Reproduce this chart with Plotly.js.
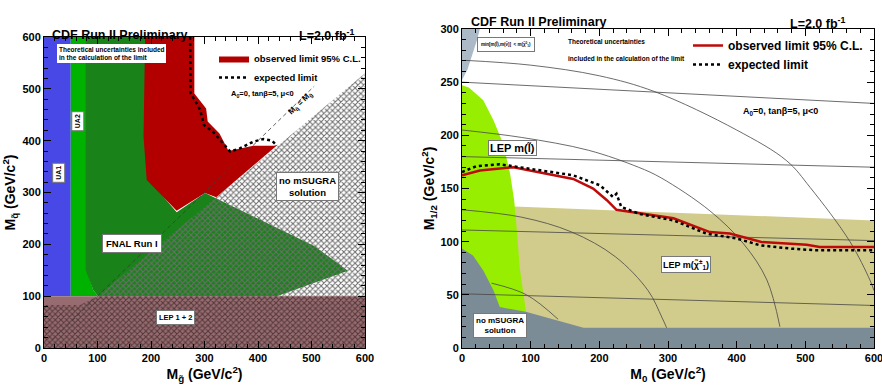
<!DOCTYPE html>
<html>
<head>
<meta charset="utf-8">
<script src="https://cdn.plot.ly/plotly-3.0.1.min.js"></script>
<style>html,body{margin:0;padding:0;background:#fff;}#chart{width:882px;height:385px;}</style>
</head>
<body>
<div id="chart"></div>
<script>
// ---------- LEFT PANEL: M_squark vs M_gluino ----------
const ua1X = [0, 50, 50, 0];
const ua1Y = [100, 100, 600, 600];
const ua2X = [50, 50, 80, 80, 92, 101];
const ua2Y = [100, 600, 600, 150, 112, 100];
const fnalX = [78, 200, 200, 248, 301, 505, 568, 435, 101, 92, 78];
const fnalY = [600, 600, 320, 262, 299, 197, 149, 100, 100, 112, 150];
const obsRegX = [189, 281, 281, 290, 303, 306, 328, 345, 391, 430, 437, 322, 301, 248, 192, 186];
const obsRegY = [600, 600, 491, 480, 462, 437, 414, 380, 390, 390, 392, 291, 299, 265, 324, 408];
const noSugraX = [100, 600, 600];
const noSugraY = [100, 530, 100];
const lepX = [0, 600, 600, 0];
const lepY = [0, 0, 100, 100];
const lepHatchX = [0, 600, 600, 101, 67, 0];
const lepHatchY = [0, 0, 100, 100, 83, 83];
const diagX = [15, 505];
const diagY = [15, 505];
const expLX = [273, 274, 282, 292, 299, 316, 332, 348, 366, 391, 410, 426, 434];
const expLY = [600, 491, 478, 459, 430, 417, 398, 379, 385, 398, 403, 400, 392];

// ---------- RIGHT PANEL: M_1/2 vs M_0 ----------
const charginoX = [0, 600, 600, 76, 0];
const charginoY = [0, 0, 120, 133, 133];
const sleptonX = [0, 0, 10, 31, 46, 60, 70, 76, 80, 84, 93, 96];
const sleptonY = [0, 247, 245, 233, 214, 192, 164, 139, 110, 76, 35, 0];
const lspX = [0, 26, 22, 15, 8, 0];
const lspY = [300, 300, 290, 275, 262, 252];
const noSolX = [0, 0, 16, 31, 46, 55, 93, 138, 177, 600, 600];
const noSolY = [0, 93.5, 87, 73, 54, 38.6, 34, 26, 19, 19, 0];
const arcAX = [5, 100, 200, 281, 400, 473, 507, 565, 594, 600];
const arcAY = [270.5, 266, 256, 241, 205, 176, 151, 100, 64, 54];
const arcCX = [0, 87, 184, 257, 290, 361, 410, 444, 463];
const arcCY = [205, 198, 186, 170, 160, 129, 98, 64, 20];
const arcEX = [0, 87, 160, 223, 271, 291, 298];
const arcEY = [130, 123, 109, 86, 54, 29, 19];
const arcGX = [43, 94, 140];
const arcGY = [61, 50, 27];
const lineBX = [0, 600], lineBY = [250, 230];
const lineDX = [0, 600], lineDY = [180, 170];
const lineFX = [0, 600], lineFY = [111, 101];
const lineHX = [0, 600], lineHY = [51, 40];
const obsRX = [0, 26, 75, 162, 191, 211, 225, 308, 361, 390, 436, 502, 521, 600];
const obsRY = [162.4, 167, 170, 159, 150, 139, 130, 122, 109, 107.6, 99.7, 97, 95, 95];
const expRX = [0, 21, 55, 114, 162, 201, 220, 225, 232, 259, 308, 356, 400, 434, 478, 512, 600];
const expRY = [165.5, 171, 172.8, 167, 162.4, 153, 142, 145, 132.6, 126, 120, 107.6, 103, 96.6, 93.5, 92, 92];

const FONT = 'Liberation Sans, Arial, Helvetica, sans-serif';

function poly(x, y, color, xa, ya, extra) {
  return Object.assign({
    type: 'scatter', mode: 'lines', x: x, y: y, xaxis: xa, yaxis: ya,
    fill: 'toself', fillcolor: color, line: {width: 0, color: color},
    hoverinfo: 'skip', showlegend: false
  }, extra || {});
}
function ln(x, y, xa, ya, extra) {
  return Object.assign({
    type: 'scatter', mode: 'lines', x: x, y: y, xaxis: xa, yaxis: ya,
    line: {width: 0.8, color: 'rgb(70,70,70)'}, hoverinfo: 'skip', showlegend: false
  }, extra || {});
}

const traces = [
  poly(ua1X, ua1Y, 'rgb(72,72,230)', 'x', 'y'),
  poly(ua2X, ua2Y, 'rgb(0,178,0)', 'x', 'y'),
  poly(fnalX, fnalY, 'rgb(25,130,25)', 'x', 'y'),
  poly(obsRegX, obsRegY, 'rgb(178,0,0)', 'x', 'y', {name: 'observed limit 95% C.L.', showlegend: true, legend: 'legend'}),
  poly(noSugraX, noSugraY, 'rgba(0,0,0,0)', 'x', 'y', {fillpattern: {shape: 'x', size: 4, solidity: 0.45, fgcolor: 'rgb(110,110,110)', bgcolor: 'rgba(0,0,0,0)'}}),
  poly(lepX, lepY, 'rgb(150,108,112)', 'x', 'y'),
  poly(lepHatchX, lepHatchY, 'rgba(0,0,0,0)', 'x', 'y', {fillpattern: {shape: 'x', size: 4, solidity: 0.45, fgcolor: 'rgb(85,55,58)', bgcolor: 'rgba(0,0,0,0)'}}),
  ln(diagX, diagY, 'x', 'y', {line: {width: 0.8, color: 'rgb(60,60,60)', dash: '4px,3px'}}),
  ln(expLX, expLY, 'x', 'y', {name: 'expected limit', showlegend: true, legend: 'legend', line: {width: 2.5, color: 'black', dash: 'dot'}}),

  poly(charginoX, charginoY, 'rgb(210,204,140)', 'x2', 'y2'),
  poly(sleptonX, sleptonY, 'rgb(152,238,0)', 'x2', 'y2'),
  poly(lspX, lspY, 'rgb(172,186,200)', 'x2', 'y2'),
  poly(noSolX, noSolY, 'rgb(124,140,150)', 'x2', 'y2'),
  ln(arcAX, arcAY, 'x2', 'y2', {line: {width: 0.8, color: 'rgb(70,70,70)', shape: 'spline'}}),
  ln(arcCX, arcCY, 'x2', 'y2', {line: {width: 0.8, color: 'rgb(70,70,70)', shape: 'spline'}}),
  ln(arcEX, arcEY, 'x2', 'y2', {line: {width: 0.8, color: 'rgb(70,70,70)', shape: 'spline'}}),
  ln(arcGX, arcGY, 'x2', 'y2', {line: {width: 0.8, color: 'rgb(70,70,70)', shape: 'spline'}}),
  ln(lineBX, lineBY, 'x2', 'y2'),
  ln(lineDX, lineDY, 'x2', 'y2'),
  ln(lineFX, lineFY, 'x2', 'y2'),
  ln(lineHX, lineHY, 'x2', 'y2'),
  ln(obsRX, obsRY, 'x2', 'y2', {name: 'observed limit 95% C.L.', showlegend: true, legend: 'legend2', line: {width: 2.5, color: 'rgb(190,10,10)'}}),
  ln(expRX, expRY, 'x2', 'y2', {name: 'expected limit', showlegend: true, legend: 'legend2', line: {width: 2.5, color: 'black', dash: 'dot'}})
];

const W = 882, H = 385;
const bold = (s) => ({family: FONT, size: s, color: 'black', weight: 'bold'});

function axis(extra) {
  return Object.assign({
    showline: true, linecolor: 'black', linewidth: 1, mirror: 'allticks',
    ticks: 'inside', ticklen: 7, tickwidth: 1, tickcolor: 'black',
    showgrid: false, zeroline: false, fixedrange: true, ticklabeloverflow: 'allow',
    tickfont: bold(11)
  }, extra);
}

function box(x, y, xr, yr, text, size, extra) {
  return Object.assign({
    x: x, y: y, xref: xr, yref: yr, text: text, showarrow: false,
    font: bold(size), bgcolor: 'white', bordercolor: 'rgb(120,120,120)', borderwidth: 1, borderpad: 2
  }, extra || {});
}
function txt(x, y, xr, yr, text, size, extra) {
  return Object.assign({x: x, y: y, xref: xr, yref: yr, text: text, showarrow: false, font: bold(size)}, extra || {});
}

const annotations = [
  // left panel titles
  txt(50 / W, 1 - 26 / H, 'paper', 'paper', 'CDF Run II Preliminary', 12.5, {xanchor: 'left'}),
  txt(357 / W, 1 - 25 / H, 'paper', 'paper', 'L=2.0 fb<sup>-1</sup>', 12.5, {xanchor: 'right'}),
  // right panel titles
  txt(469 / W, 1 - 13 / H, 'paper', 'paper', 'CDF Run II Preliminary', 12.5, {xanchor: 'left'}),
  txt(848 / W, 1 - 13 / H, 'paper', 'paper', 'L=2.0 fb<sup>-1</sup>', 12.5, {xanchor: 'right'}),
  // left panel labels
  box(127, 569, 'x', 'y', 'Theoretical uncertainties included<br>in the calculation of the limit', 6.5, {align: 'left', borderwidth: 0}),
  box(28, 338, 'x', 'y', 'UA1', 7, {textangle: -90}),
  box(64, 438, 'x', 'y', 'UA2', 7, {textangle: -90}),
  box(164, 201, 'x', 'y', 'FNAL Run I', 9.5, {borderpad: 3}),
  box(245, 58, 'x', 'y', 'LEP 1 + 2', 7.5, {borderpad: 2}),
  box(493, 312, 'x', 'y', 'no mSUGRA<br>solution', 9.5, {borderpad: 2}),
  txt(409, 490, 'x', 'y', 'A<sub>0</sub>=0, tanβ=5, μ<0', 7.5),
  txt(480, 472, 'x', 'y', 'M<sub>q̃</sub> = M<sub>g̃</sub>', 8, {textangle: -44}),
  // right panel labels
  box(64, 285, 'x2', 'y2', 'min[m(l̃),m(ν̃)]  < m(χ̃<sup>0</sup><sub>1</sub>)', 4.5, {borderpad: 3}),
  txt(151, 288.4, 'x2', 'y2', 'Theoretical uncertainties', 6.5, {xanchor: 'left'}),
  txt(151, 272.4, 'x2', 'y2', 'included in the calculation of the limit', 6.5, {xanchor: 'left'}),
  txt(464, 222.6, 'x2', 'y2', 'A<sub>0</sub>=0, tanβ=5, μ<0', 9),
  box(74, 188, 'x2', 'y2', 'LEP m(l̃)', 11, {borderpad: 1}),
  box(326, 78.5, 'x2', 'y2', 'LEP m(χ̃<sup>±</sup><sub>1</sub>)', 9, {borderpad: 1}),
  box(55, 21, 'x2', 'y2', 'no mSUGRA<br>solution', 8, {borderpad: 2})
];

const layout = {
  width: W, height: H,
  margin: {l: 0, r: 0, t: 0, b: 0},
  paper_bgcolor: 'white', plot_bgcolor: 'white',
  font: {family: FONT, color: 'black'},
  xaxis: axis({domain: [44 / W, 365 / W], range: [0, 600], dtick: 100, anchor: 'y',
    minor: {ticks: 'inside', ticklen: 4, dtick: 20, tickcolor: 'black'},
    title: {text: 'M<sub>g̃</sub> (GeV/c<sup>2</sup>)', font: bold(14), standoff: 2}}),
  yaxis: axis({domain: [1 - 348 / H, 1 - 37 / H], range: [0, 600], dtick: 100, anchor: 'x',
    minor: {ticks: 'inside', ticklen: 4, dtick: 20, tickcolor: 'black'},
    title: {text: 'M<sub>q̃</sub> (GeV/c<sup>2</sup>)', font: bold(14), standoff: 4}}),
  xaxis2: axis({domain: [462 / W, 874 / W], range: [0, 600], dtick: 100, anchor: 'y2',
    minor: {ticks: 'inside', ticklen: 4, dtick: 20, tickcolor: 'black'},
    title: {text: 'M<sub>0</sub> (GeV/c<sup>2</sup>)', font: bold(14), standoff: 2}}),
  yaxis2: axis({domain: [1 - 348 / H, 1 - 29 / H], range: [0, 300], dtick: 50, anchor: 'x2',
    minor: {ticks: 'inside', ticklen: 4, dtick: 10, tickcolor: 'black'},
    title: {text: 'M<sub>1/2</sub> (GeV/c<sup>2</sup>)', font: bold(14), standoff: 2}}),
  legend: {x: 214 / W, y: 1 - 44 / H, xanchor: 'left', yanchor: 'top', bgcolor: 'rgba(255,255,255,0)',
    font: bold(9.5), itemwidth: 30, tracegroupgap: 0},
  legend2: {x: 688 / W, y: 1 - 31 / H, xanchor: 'left', yanchor: 'top', bgcolor: 'rgba(255,255,255,0)',
    font: bold(12), itemwidth: 30, tracegroupgap: 0},
  annotations: annotations,
  showlegend: true
};

Plotly.newPlot('chart', traces, layout, {staticPlot: true, displayModeBar: false});
</script>
</body>
</html>
